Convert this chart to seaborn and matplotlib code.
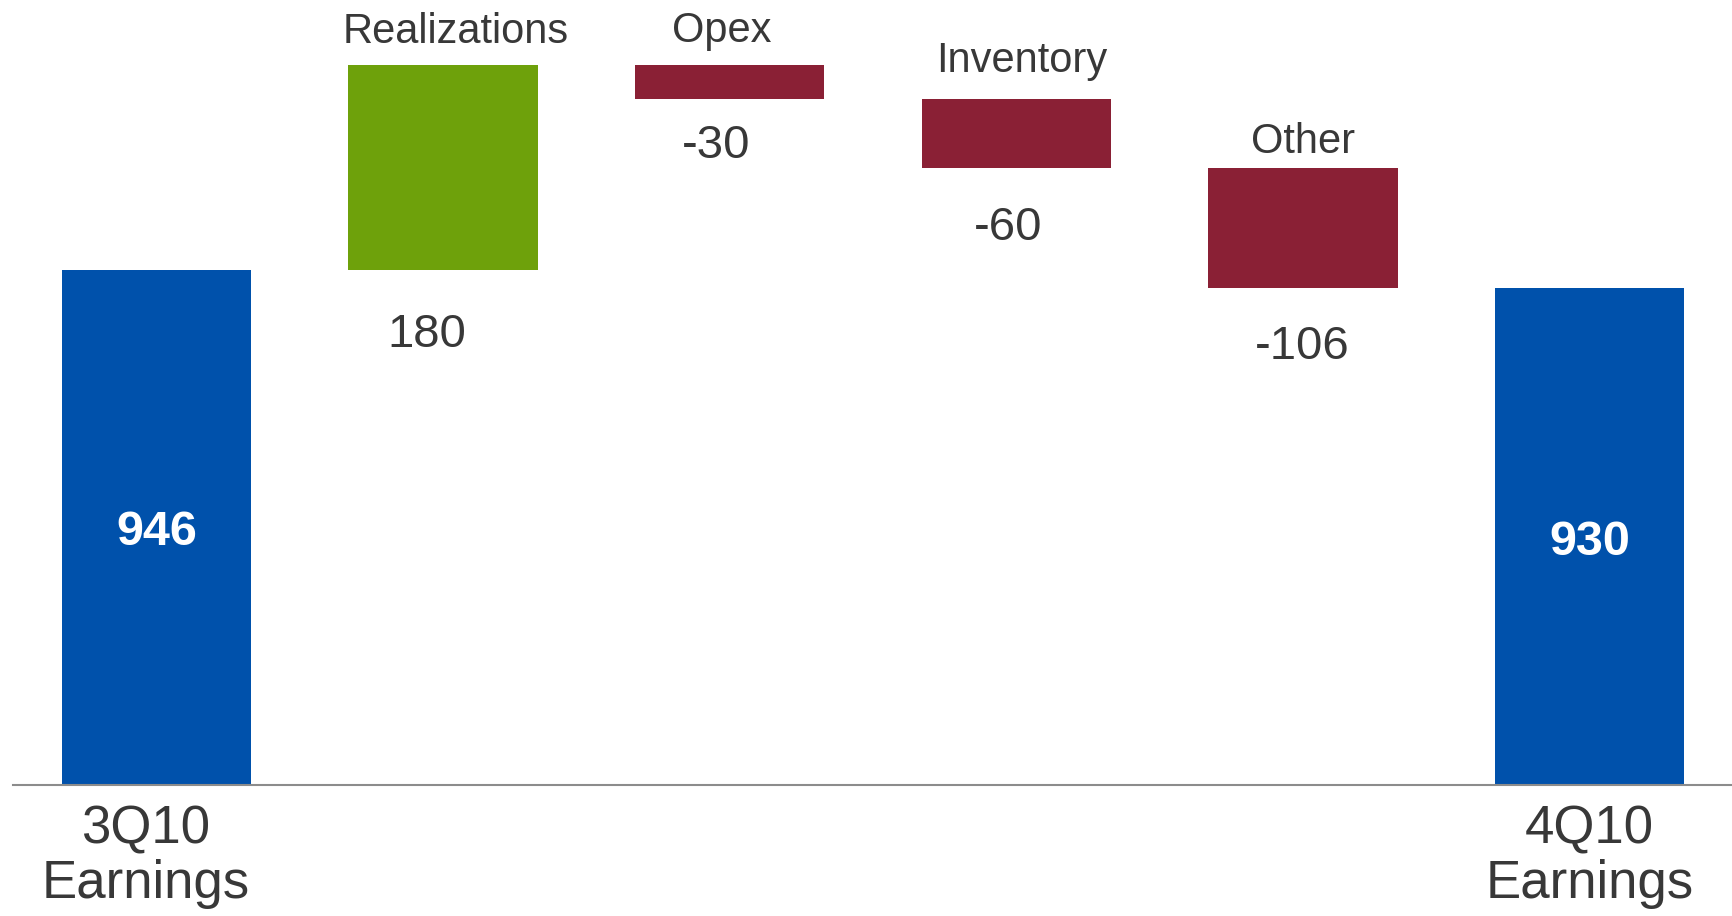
import numpy as np
import matplotlib
matplotlib.use("Agg")
import matplotlib.pyplot as plt
from matplotlib.transforms import ScaledTranslation
import seaborn as sns

# Earnings bridge, 3Q10 -> 4Q10
categories = ["3Q10\nEarnings", "Realizations", "Opex", "Inventory", "Other", "4Q10\nEarnings"]
changes = [946, 180, -30, -60, -106, 930]
is_total = [True, False, False, False, False, True]
bar_colors = ["#0051AB", "#6EA10B", "#8A2035", "#8A2035", "#8A2035", "#0051AB"]
tick_labels = ["3Q10\nEarnings", "", "", "", "", "4Q10\nEarnings"]
y_min, y_max = 494.5, 1183

# label nudges in points (name above the bar, value below the bar)
name_offsets = [(0, 0), (9, 15.6), (-5.6, 16.4), (4, 19.6), (0, 10.8), (0, 0)]
value_offsets = [(0, -4), (-12, -47), (-9.5, -33.4), (-5.6, -43.8), (-0.8, -42.2), (0, -4)]

# running start/end of each step
starts, ends = [], []
level = 0
for c, tot in zip(changes, is_total):
    if tot:
        starts.append(y_min)
        ends.append(c)
        level = c
    else:
        starts.append(level)
        level += c
        ends.append(level)

sns.set_theme(style="white")
plt.rcParams["font.family"] = ["Liberation Sans", "DejaVu Sans"]
text_color = "#383838"

fig = plt.figure(figsize=(17.33, 9.16), dpi=100)
ax = fig.add_axes([13 / 1733, 131.3 / 916, 1720 / 1733, 784.7 / 916])

sns.barplot(x=categories, y=ends, hue=categories, palette=bar_colors,
            width=0.66, legend=False, ax=ax, saturation=1, order=categories,
            hue_order=categories)

for patch, lo, hi in zip(ax.patches, starts, ends):
    a, b = sorted((lo, hi))
    patch.set_y(a)
    patch.set_height(b - a)
    patch.set_linewidth(0)

ax.set_ylim(y_min, y_max)
ax.set_xlim(-0.5, len(categories) - 0.5)
ax.set_yticks([])
ax.set_xlabel("")
ax.set_ylabel("")
ax.set_xticks(range(len(categories)))
ax.set_xticklabels(tick_labels, fontsize=38, color=text_color, linespacing=1.13)
ax.tick_params(axis="x", length=0, pad=14)
first = ax.get_xticklabels()[0]
first.set_transform(first.get_transform() + ScaledTranslation(-8 / 72, 0, fig.dpi_scale_trans))
for s in ["top", "left", "right"]:
    ax.spines[s].set_visible(False)
ax.spines["bottom"].set_color("#8c8c8c")
ax.spines["bottom"].set_linewidth(1.5)

for i, (cat, c, tot, lo, hi) in enumerate(zip(categories, changes, is_total, starts, ends)):
    if tot:
        ax.annotate(f"{c}", (i, (y_min + hi) / 2), xytext=value_offsets[i],
                    textcoords="offset points", ha="center", va="center",
                    fontsize=35, fontweight="bold", color="white")
    else:
        top, bottom = max(lo, hi), min(lo, hi)
        ax.annotate(cat, (i, top), xytext=name_offsets[i], textcoords="offset points",
                    ha="center", va="baseline", fontsize=30, color=text_color,
                    annotation_clip=False)
        ax.annotate(f"{c}", (i, bottom), xytext=value_offsets[i], textcoords="offset points",
                    ha="center", va="center", fontsize=34, color=text_color,
                    annotation_clip=False)

fig.savefig("out.png", dpi=100)
